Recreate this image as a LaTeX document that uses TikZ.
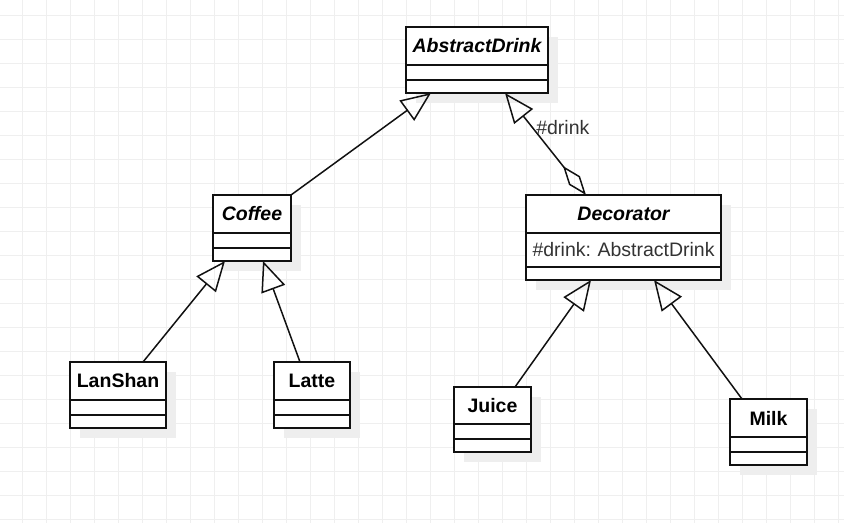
\documentclass[tikz,border=0pt]{standalone}
\usepackage{fontspec}
\setmainfont{Liberation Sans}
\usetikzlibrary{positioning,arrows.meta,shadows,calc}

\newcommand{\umlsize}{\fontsize{19.5pt}{23pt}\selectfont}

\definecolor{UmlLine}{HTML}{111111}
\definecolor{UmlText}{HTML}{333333}
\definecolor{UmlShadow}{HTML}{EEEEEE}
\definecolor{GridLine}{HTML}{EFEFEF}

\tikzstyle{grid-line}=[draw=GridLine, line width=1pt]
\tikzstyle{uml-box}=[draw=UmlLine, line width=1.6pt, fill=white, inner sep=0pt, outer sep=0pt, drop shadow={shadow xshift=10pt, shadow yshift=-10pt, fill=UmlShadow, opacity=1}]
\tikzstyle{uml-title}=[uml-box, anchor=north west, minimum height=38pt, font=\umlsize\bfseries]
\tikzstyle{uml-attr}=[uml-box, minimum height=15pt]
\tikzstyle{uml-ops}=[uml-box, minimum height=13pt]
\tikzstyle{extends}=[draw=UmlLine, line width=1.5pt, -{Triangle[open, length=30pt, width=25pt]}]
\tikzstyle{aggregates}=[draw=UmlLine, line width=1.5pt, {Diamond[open, length=37pt, width=14pt]}-{Triangle[open, length=30pt, width=24pt]}]

\begin{document}
\begin{tikzpicture}[x=1pt, y=-1pt]
      \useasboundingbox (0,0) rectangle (844,523);
      \foreach \gx in {22,46,...,838} \draw[grid-line] (\gx,0) -- (\gx,523);
      \foreach \gy in {15,39,...,519} \draw[grid-line] (0,\gy) -- (844,\gy);

      \node (abstract)       at (406,27) [uml-title, minimum width=142pt] {\itshape AbstractDrink};
      \node (abstract-attr)  [uml-attr, below=0pt of abstract,      minimum width=142pt] {};
      \node (abstract-ops)   [uml-ops,  below=0pt of abstract-attr, minimum width=142pt] {};

      \node (coffee)         at (213,195) [uml-title, minimum width=78pt] {\itshape Coffee};
      \node (coffee-attr)    [uml-attr, below=0pt of coffee,        minimum width=78pt] {};
      \node (coffee-ops)     [uml-ops,  below=0pt of coffee-attr,   minimum width=78pt] {};

      \node (decorator)      at (526,195) [uml-title, minimum width=195pt] {\itshape Decorator};
      \node (decorator-attr) [uml-attr, below=0pt of decorator,     minimum width=195pt, minimum height=34pt, text width=182pt, inner xsep=6.5pt, align=left, text=UmlText, font=\umlsize] {\mbox{\#drink:\ AbstractDrink}};
      \node (decorator-ops)  [uml-ops,  below=0pt of decorator-attr, minimum width=195pt] {};

      \node (lanshan)        at (70,362) [uml-title, minimum width=96pt] {LanShan};
      \node (lanshan-attr)   [uml-attr, below=0pt of lanshan,       minimum width=96pt] {};
      \node (lanshan-ops)    [uml-ops,  below=0pt of lanshan-attr,  minimum width=96pt] {};

      \node (latte)          at (274,362) [uml-title, minimum width=76pt] {Latte};
      \node (latte-attr)     [uml-attr, below=0pt of latte,         minimum width=76pt] {};
      \node (latte-ops)      [uml-ops,  below=0pt of latte-attr,    minimum width=76pt] {};

      \node (juice)          at (454,387) [uml-title, minimum width=77pt, minimum height=37pt] {Juice};
      \node (juice-attr)     [uml-attr, below=0pt of juice,         minimum width=77pt] {};
      \node (juice-ops)      [uml-ops,  below=0pt of juice-attr,    minimum width=77pt] {};

      \node (milk)           at (730,399) [uml-title, minimum width=77pt] {Milk};
      \node (milk-attr)      [uml-attr, below=0pt of milk,          minimum width=77pt] {};
      \node (milk-ops)       [uml-ops,  below=0pt of milk-attr,     minimum width=77pt] {};

      \draw[extends] (coffee.north east) -- ($(abstract-ops.south west)+(25,0)$);
      \draw[extends] ($(lanshan.north west)+(73,0)$) -- ($(coffee-ops.south west)+(12,0)$);
      \draw[extends] ($(latte.north west)+(26,0)$) -- ($(coffee-ops.south west)+(50,0)$);
      \draw[extends] ($(juice.north west)+(61,0)$) -- ($(decorator-ops.south west)+(65,0)$);
      \draw[extends] ($(milk.north west)+(12,0)$) -- ($(decorator-ops.south west)+(128,0)$);
      \draw[aggregates] ($(decorator.north west)+(60,0)$) -- node[pos=0.66, anchor=west, inner sep=3pt, text=UmlText, font=\umlsize] (drink-label) {\#drink} ($(abstract-ops.south west)+(99,0)$);
    \end{tikzpicture}
\end{document}
